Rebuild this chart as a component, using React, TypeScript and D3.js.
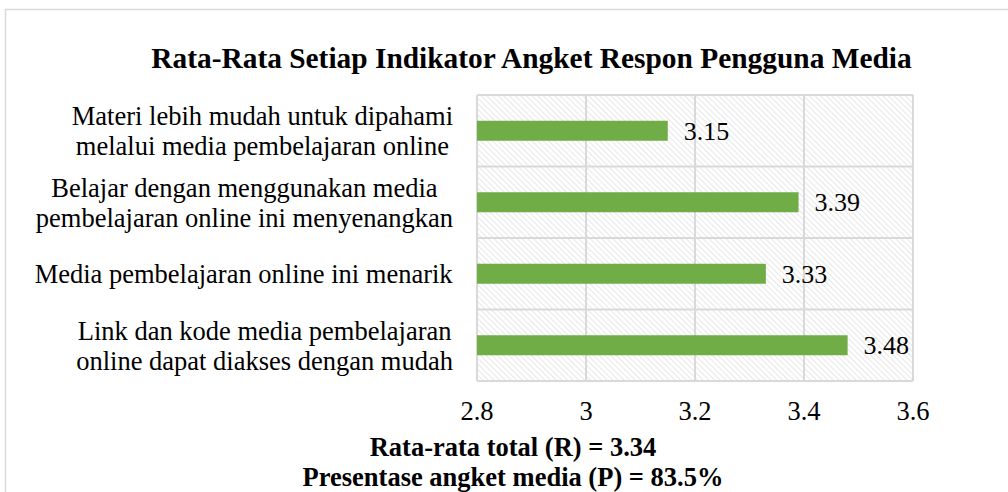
import { useEffect, useRef } from "react";
import * as d3 from "d3";

// chart data
const categories = [
  "Materi lebih mudah untuk dipahami|melalui media pembelajaran online",
  "Belajar dengan menggunakan media|pembelajaran online ini menyenangkan",
  "Media pembelajaran online ini menarik",
  "Link dan kode media pembelajaran|online dapat diakses dengan mudah",
];
const values = [3.15, 3.39, 3.33, 3.48];
const xTicks = [2.8, 3, 3.2, 3.4, 3.6];
const title = "Rata-Rata Setiap Indikator Angket Respon Pengguna Media";
const footnotes = ["Rata-rata total (R) = 3.34", "Presentase angket media (P) = 83.5%"];

const FONT = "'Liberation Serif', 'Times New Roman', serif";

const App = () => {
  const ref = useRef<SVGSVGElement>(null);

  useEffect(() => {
    const width = 1008;
    const height = 492;
    const fontSize = 26.5;
    const gridColor = "#d9d9d9";
    const barColor = "#70ad47";
    const margin = { top: 95, right: 95, bottom: 111, left: 477 };

    const svg = d3.select(ref.current);
    svg.selectAll("*").remove();

    // hatch pattern for plot background
    const defs = svg.append("defs");
    defs
      .append("pattern")
      .attr("id", "hatch")
      .attr("patternUnits", "userSpaceOnUse")
      .attr("width", 4)
      .attr("height", 4)
      .attr("patternTransform", "rotate(-45)")
      .append("line")
      .attr("x1", 0)
      .attr("y1", 0)
      .attr("x2", 0)
      .attr("y2", 4)
      .attr("stroke", "#d0d0d0")
      .attr("stroke-width", 1);

    // outer frame (runs off the picture)
    svg
      .append("rect")
      .attr("x", 5.5)
      .attr("y", 9.5)
      .attr("width", width + 20)
      .attr("height", height + 20)
      .attr("fill", "white")
      .attr("stroke", gridColor)
      .attr("stroke-width", 1.5);

    const x = d3
      .scaleLinear()
      .domain([xTicks[0], xTicks[xTicks.length - 1]])
      .range([margin.left, width - margin.right]);

    const y = d3
      .scaleBand()
      .domain(categories)
      .range([margin.top, height - margin.bottom])
      .padding(0);

    const barH = 20;

    // background
    svg
      .append("rect")
      .attr("x", x.range()[0])
      .attr("y", y.range()[0])
      .attr("width", x.range()[1] - x.range()[0])
      .attr("height", y.range()[1] - y.range()[0])
      .attr("fill", "url(#hatch)");

    // vertical gridlines
    svg
      .append("g")
      .selectAll("line")
      .data(xTicks)
      .join("line")
      .attr("x1", (d) => x(d))
      .attr("x2", (d) => x(d))
      .attr("y1", y.range()[0])
      .attr("y2", y.range()[1])
      .attr("stroke", gridColor)
      .attr("stroke-width", 2);

    // horizontal band lines
    const bandEdges = categories.map((c) => y(c) as number).concat([y.range()[1]]);
    svg
      .append("g")
      .selectAll("line")
      .data(bandEdges)
      .join("line")
      .attr("x1", x.range()[0])
      .attr("x2", x.range()[1])
      .attr("y1", (d) => d)
      .attr("y2", (d) => d)
      .attr("stroke", gridColor)
      .attr("stroke-width", 2);

    // bars
    svg
      .append("g")
      .selectAll("rect")
      .data(values)
      .join("rect")
      .attr("x", x(xTicks[0]))
      .attr("y", (d, i) => (y(categories[i]) as number) + y.bandwidth() / 2 - barH / 2)
      .attr("width", (d) => x(d) - x(xTicks[0]))
      .attr("height", barH)
      .attr("fill", barColor);

    // value labels
    svg
      .append("g")
      .selectAll("text")
      .data(values)
      .join("text")
      .style("font-family", FONT)
      .style("font-size", "26px")
      .attr("fill", "black")
      .attr("x", (d) => x(d) + 16)
      .attr("y", (d, i) => (y(categories[i]) as number) + y.bandwidth() / 2)
      .attr("dy", "0.35em")
      .text((d) => d.toFixed(2));

    // category labels, centred lines with the block's right edge at x=453
    const cat = svg
      .append("g")
      .selectAll("text")
      .data(categories)
      .join("text")
      .style("font-family", FONT)
      .style("font-size", fontSize + "px")
      .attr("fill", "black")
      .attr("text-anchor", "middle");
    cat.each(function (d) {
      const lines = d.split("|");
      const t = d3.select(this);
      lines.forEach((ln, i) => {
        t.append("tspan")
          .attr("x", 0)
          .attr("y", (y(d) as number) + y.bandwidth() / 2 + (i - (lines.length - 1) / 2) * 30)
          .attr("dy", "0.35em")
          .text(ln);
      });
    });
    cat.each(function () {
      const node = this as SVGTextElement;
      const w = node.getBBox().width;
      d3.select(node).selectAll("tspan").attr("x", 453 - w / 2);
    });

    // x axis labels
    svg
      .append("g")
      .selectAll("text")
      .data(xTicks)
      .join("text")
      .style("font-family", FONT)
      .style("font-size", fontSize + "px")
      .attr("fill", "black")
      .attr("text-anchor", "middle")
      .attr("x", (d) => x(d))
      .attr("y", 420)
      .text((d) => d3.format("")(d));

    // title
    svg
      .append("text")
      .style("font-family", FONT)
      .style("font-size", "29.4px")
      .style("font-weight", "bold")
      .attr("x", 531.5)
      .attr("y", 68)
      .attr("text-anchor", "middle")
      .text(title);

    // footnotes
    svg
      .append("g")
      .selectAll("text")
      .data(footnotes)
      .join("text")
      .style("font-family", FONT)
      .style("font-size", fontSize + "px")
      .style("font-weight", "bold")
      .attr("text-anchor", "middle")
      .attr("x", 513)
      .attr("y", (d, i) => 456 + i * 30)
      .text((d) => d);
  }, []);

  return (
    <svg
      ref={ref}
      width={1008}
      height={492}
      style={{ position: "absolute", left: 0, top: 0, background: "white", fontFamily: FONT }}
    />
  );
};

export default App;
